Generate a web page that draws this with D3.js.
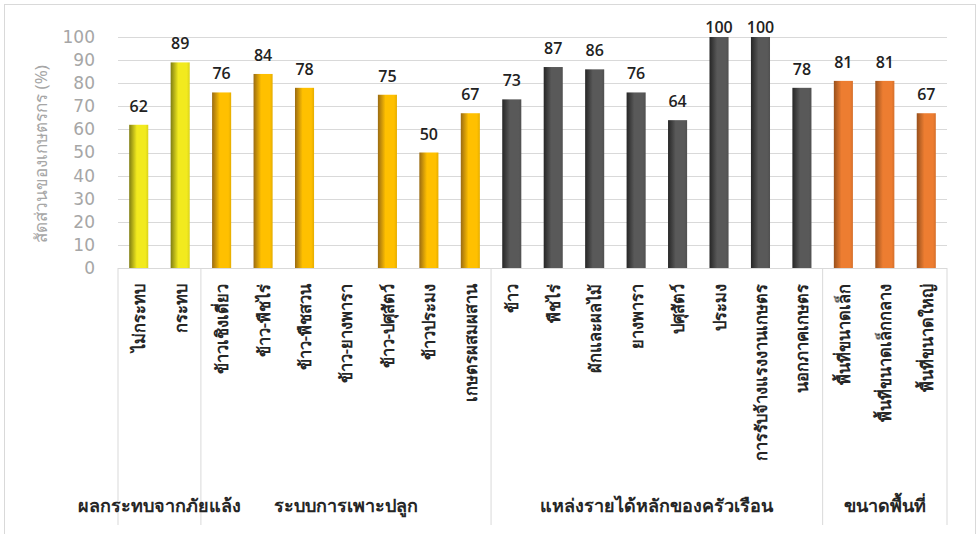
<!DOCTYPE html>
<html><head><meta charset="utf-8">
<script src="https://cdn.jsdelivr.net/npm/d3@7/dist/d3.min.js"></script>
<style>body{margin:0;background:#fff;}svg{display:block;}</style>
</head><body><svg id="c" width="978" height="534"></svg>
<script>
const categories = ["ไม่กระทบ","กระทบ","ข้าวเชิงเดี่ยว","ข้าว-พืชไร่","ข้าว-พืชสวน","ข้าว-ยางพารา","ข้าว-ปศุสัตว์","ข้าวประมง","เกษตรผสมผสาน","ข้าว","พืชไร่","ผักและผลไม้","ยางพารา","ปศุสัตว์","ประมง","การรับจ้างแรงงานเกษตร","นอกภาคเกษตร","พื้นที่ขนาดเล็ก","พื้นที่ขนาดเล็กกลาง","พื้นที่ขนาดใหญ่"];
const values = [62,89,76,84,78,null,75,50,67,73,87,86,76,64,100,100,78,81,81,67];
const groupOf = [0,0,1,1,1,1,1,1,1,2,2,2,2,2,2,2,2,3,3,3];
const groups = ["ผลกระทบจากภัยแล้ง","ระบบการเพาะปลูก","แหล่งรายได้หลักของครัวเรือน","ขนาดพื้นที่"];
const groupSizes = [2,7,8,3];
const yTicks = [0,10,20,30,40,50,60,70,80,90,100];
const yTitle = "สัดส่วนของเกษตรกร (%)";
const palette = [["#7f7d12","#f2ea1e"],["#9a6b12","#ffc000"],["#262626","#595959"],["#98501c","#ed7d31"]];

const svg = d3.select("#c");
const L=118,R=947,T=37,B=268;
const font = "'Noto Sans','DejaVu Sans',sans-serif";
svg.append("rect").attr("x",4.5).attr("y",4.5).attr("width",971).attr("height",540).attr("fill","#fff").attr("stroke","#d9d9d9");

const x = d3.scaleBand().domain(d3.range(categories.length)).range([L,R]).paddingInner(0.54).paddingOuter(0.27);
const xb = d3.scaleBand().domain(d3.range(categories.length)).range([L,R]);
const y = d3.scaleLinear().domain([0,100]).range([B,T]);

const defs = svg.append("defs");
palette.forEach((p,i)=>{
  const g = defs.append("linearGradient").attr("id","g"+i).attr("x1","0").attr("x2","1").attr("y1","0").attr("y2","0");
  g.append("stop").attr("offset","0%").attr("stop-color",p[0]);
  g.append("stop").attr("offset","40%").attr("stop-color",p[1]);
  g.append("stop").attr("offset","85%").attr("stop-color",p[1]);
  g.append("stop").attr("offset","100%").attr("stop-color",d3.color(p[1]).darker(0.3));
});

// gridlines
svg.append("g").selectAll("line").data(yTicks).join("line")
  .attr("x1",L).attr("x2",R).attr("y1",d=>Math.round(y(d))+0.5).attr("y2",d=>Math.round(y(d))+0.5)
  .attr("stroke","#d9d9d9").attr("stroke-width",1);

// y axis
const ya = svg.append("g").attr("transform",`translate(${L},0)`).call(d3.axisLeft(y).tickValues(yTicks).tickSize(0).tickPadding(23));
ya.select(".domain").remove();
ya.selectAll("text").attr("font-family","'DejaVu Sans',sans-serif").attr("font-size",17).attr("fill","#a6a6a6");

svg.append("text").attr("transform",`translate(40,154) rotate(-90)`).attr("text-anchor","middle")
  .attr("dominant-baseline","central").attr("font-family",font).attr("font-size",17).attr("fill","#a6a6a6").text(yTitle);

// bars
const idx = d3.range(categories.length).filter(i=>values[i]!=null);
svg.append("g").selectAll("rect").data(idx).join("rect")
  .attr("x",i=>x(i)).attr("width",x.bandwidth()).attr("y",i=>y(values[i])).attr("height",i=>y(0)-y(values[i]))
  .attr("fill",i=>`url(#g${groupOf[i]})`);

svg.append("g").selectAll("text").data(idx).join("text")
  .attr("x",i=>x(i)+x.bandwidth()/2).attr("y",i=>Math.max(y(values[i])-13,33)).attr("text-anchor","middle")
  .attr("font-family","'Open Sans',sans-serif").attr("font-weight",600).attr("font-size",16).attr("fill","#222").text(i=>values[i]);

// category labels
svg.append("g").selectAll("text").data(d3.range(categories.length)).join("text")
  .attr("transform",i=>`translate(${xb(i)+xb.bandwidth()/2},284) rotate(-90)`)
  .attr("text-anchor","end").attr("dominant-baseline","central")
  .attr("font-family",font).attr("font-size",16.5).attr("font-weight",600).attr("fill","#262626").text(i=>categories[i]);

// axis line & separators
svg.append("line").attr("x1",L).attr("x2",R).attr("y1",B+0.5).attr("y2",B+0.5).attr("stroke","#d9d9d9");
let acc=0; const bounds=[0];
groupSizes.forEach(s=>{acc+=s;bounds.push(acc);});
svg.append("g").selectAll("line").data(bounds).join("line")
  .attr("x1",b=>b<categories.length?xb(b):R).attr("x2",b=>b<categories.length?xb(b):R)
  .attr("y1",B).attr("y2",525).attr("stroke","#d9d9d9");

svg.append("g").selectAll("text").data(groups).join("text")
  .attr("x",(g,i)=>{const a=xb(bounds[i]); const b=bounds[i+1]<categories.length?xb(bounds[i+1]):R; return (a+b)/2;})
  .attr("y",512).attr("text-anchor","middle").attr("font-family",font).attr("font-size",18).attr("font-weight","bold")
  .attr("fill","#262626").text(g=>g);
</script></body></html>
